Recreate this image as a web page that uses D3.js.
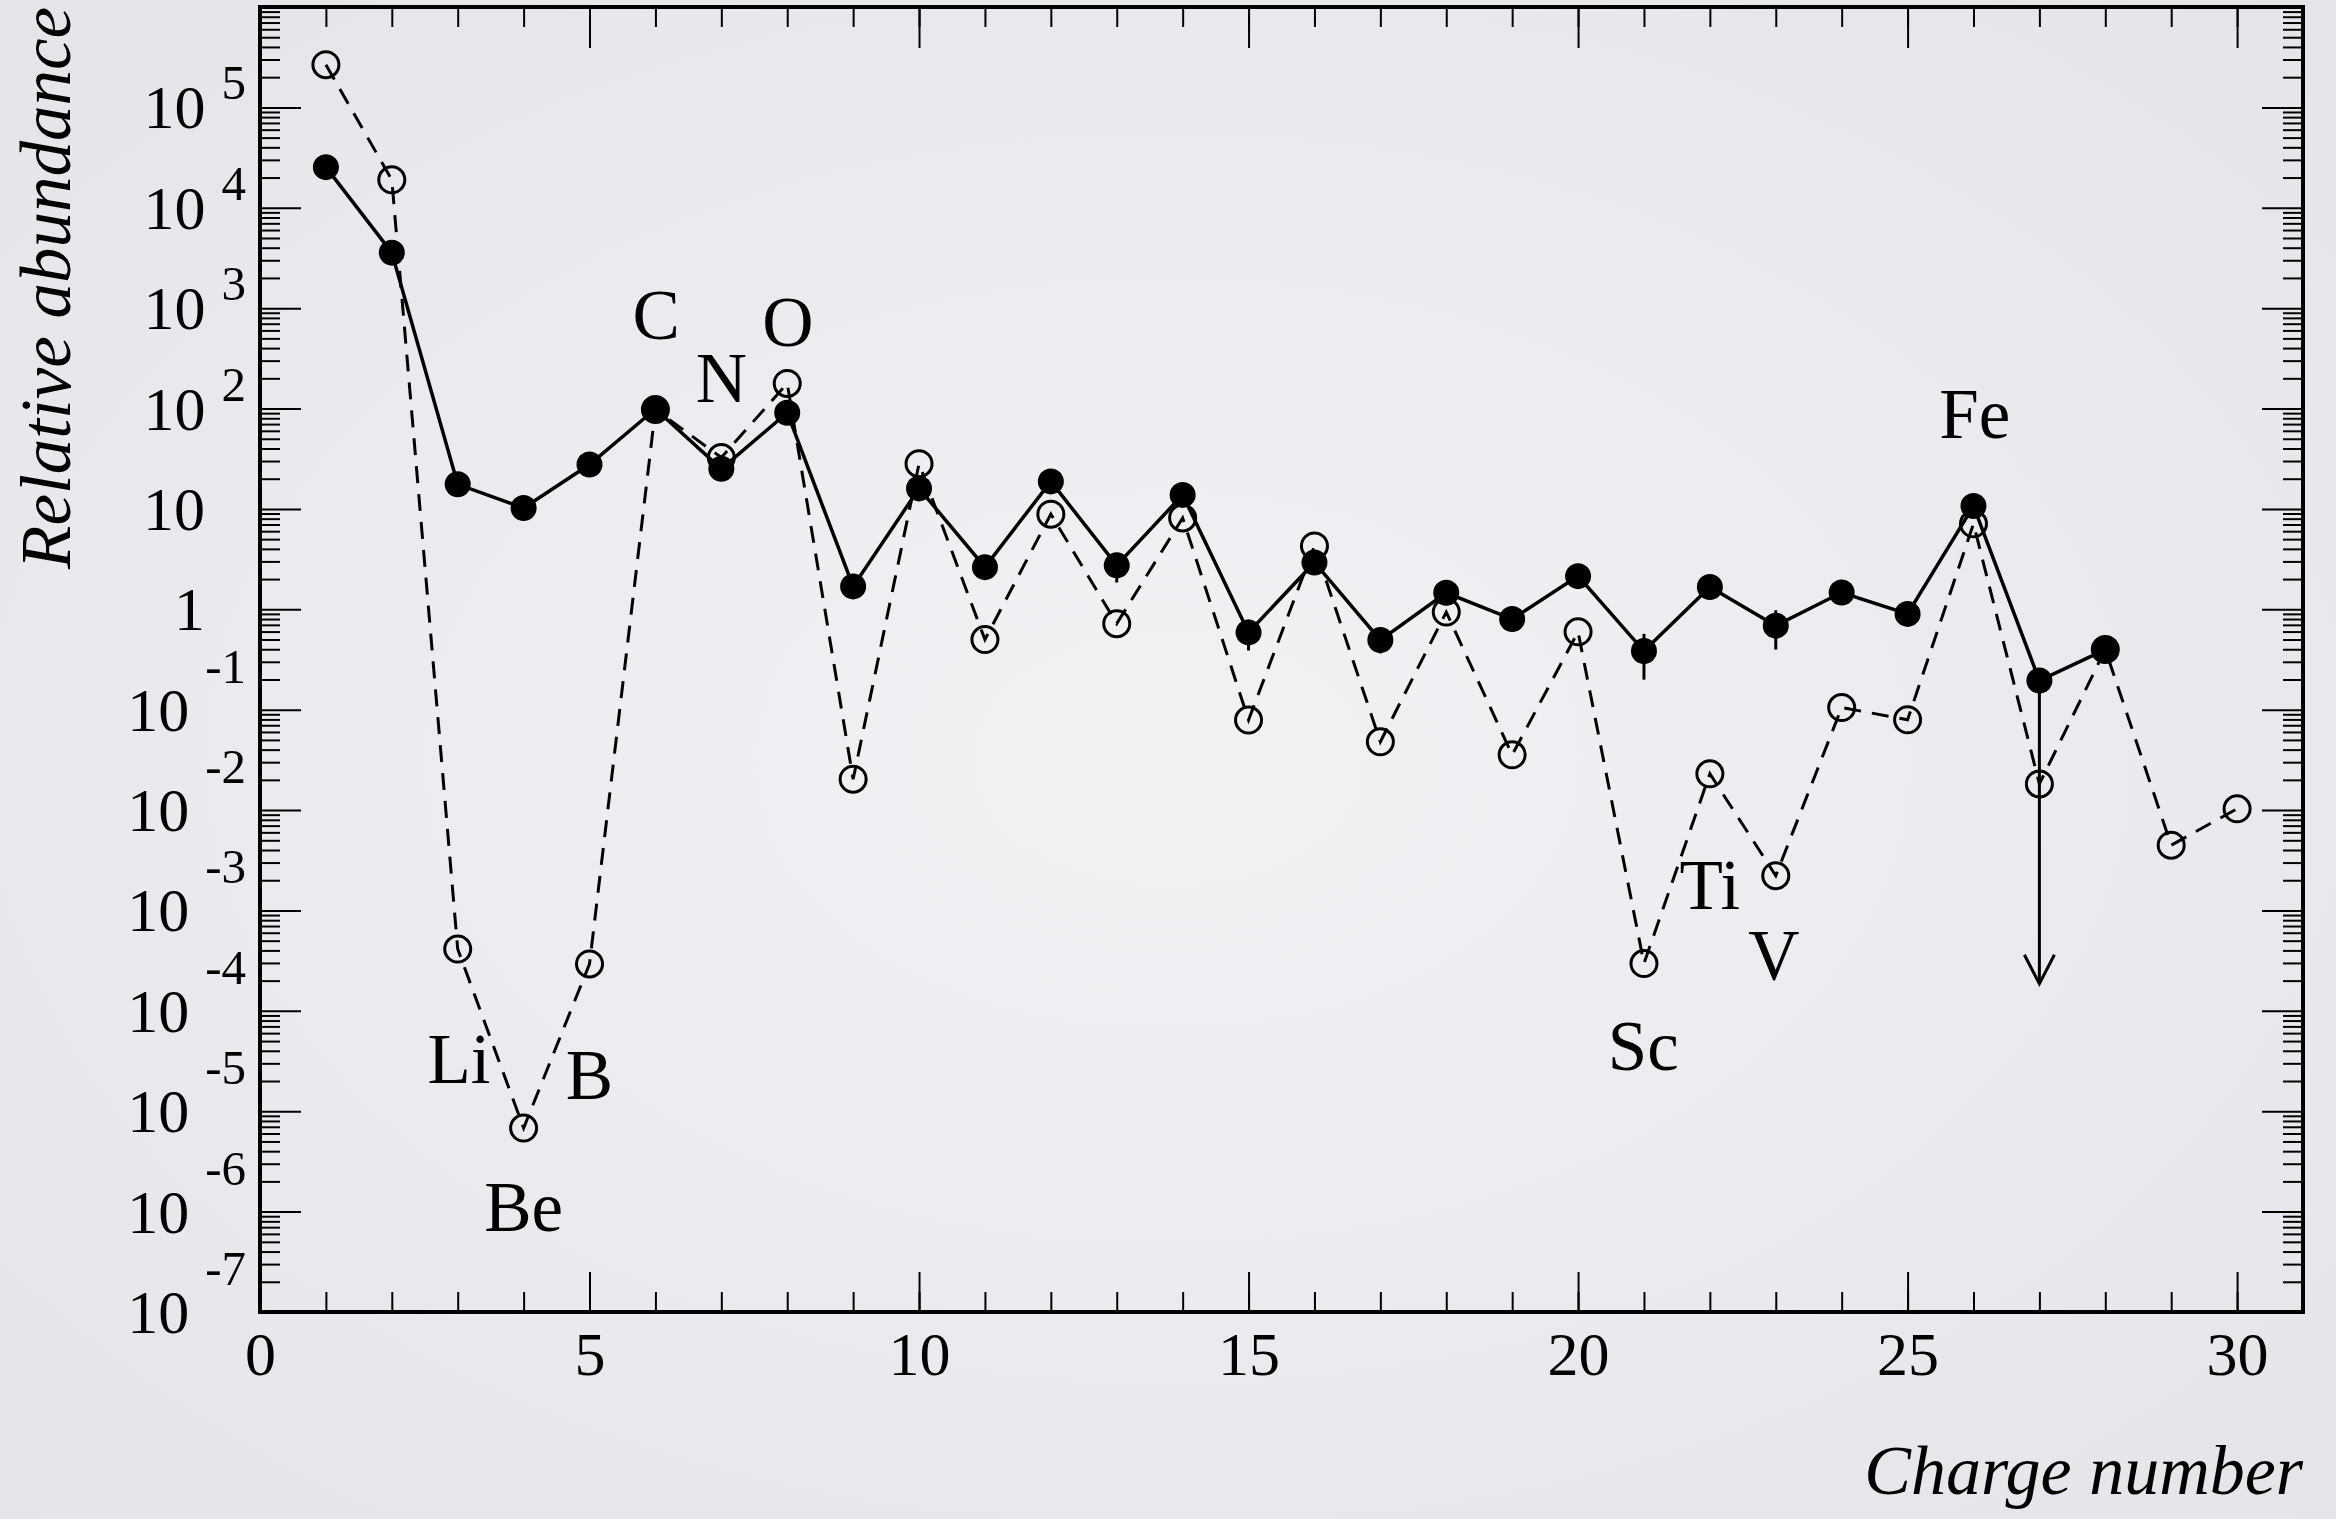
<!DOCTYPE html>
<html>
<head>
<meta charset="utf-8">
<script src="https://cdn.jsdelivr.net/npm/d3@7"></script>
<style>
  html, body { margin: 0; padding: 0; background: #e9ebee; }
  svg { display: block; }
  text { font-family: "Liberation Serif", "Times New Roman", serif; fill: #000; }
</style>
</head>
<body>
<div class="container"></div>
<script>
// charge number of each element
const charges = d3.range(1, 31)

// filled markers, solid line (Z = 1..28)
const solidValues = [25400, 3570, 17.6, 10.2, 27.7, 98.9, 25.1, 90.8, 1.69, 16.0,
  2.63, 18.8, 2.74, 13.8, 0.589, 2.93, 0.494, 1.46, 0.80, 2.14,
  0.384, 1.67, 0.687, 1.47, 0.90, 10.7, 0.195, 0.397]
// error on the filled markers (0 = none drawn)
const solidErrors = [0, 0, 0, 0, 0, 0, 0, 0, 0, 0,
  0, 0, 0.89, 0, 0.20, 0, 0.13, 0, 0, 0,
  0.185, 0, 0.29, 0, 0, 0, 0, 0]

// open markers, dashed line (Z = 1..30)
const dashedValues = [2.66e5, 1.9e4, 4.13e-4, 6.8e-6, 2.93e-4, 98, 32.5, 178, 0.0203, 28.2,
  0.50, 8.87, 0.72, 8.13, 0.0789, 4.28, 0.0479, 0.938, 0.0355, 0.596,
  2.96e-4, 0.0230, 2.22e-3, 0.105, 0.0794, 7.11, 0.0182, 0.398, 4.47e-3, 0.0103]

// upper limit arrow at Z = 27
const limitZ = 27
const limitFrom = 0.195
const limitTo = 1.86e-4

// element names, at (charge, abundance) of the text baseline
const labelNames = ['C', 'N', 'O', 'Li', 'B', 'Be', 'Fe', 'Ti', 'V', 'Sc']
const labelZ = [6.01, 7.0, 8.01, 3.02, 5.0, 4.0, 26.02, 22.0, 22.97, 20.99]
const labelV = [493, 116, 421, 1.92e-5, 1.33e-5, 6.4e-7, 51, 1.04e-3, 2.08e-4, 2.58e-5]

const xMajor = [0, 5, 10, 15, 20, 25, 30]
const yExponents = d3.range(-7, 6)   // labelled decades 10^-7 .. 10^5

const W = 2336, H = 1519
const pLeft = 260, pRight = 2303, pTop = 7, pBottom = 1312

var svg = d3.select('.container')
  .append('svg')
  .attr('width', W)
  .attr('height', H)

// soft vignette background
var grad = svg.append('defs').append('radialGradient')
  .attr('id', 'bg').attr('cx', '50%').attr('cy', '50%').attr('r', '75%')
grad.append('stop').attr('offset', '0%').attr('stop-color', '#f1f2f4')
grad.append('stop').attr('offset', '100%').attr('stop-color', '#e2e4e8')
svg.append('rect').attr('width', W).attr('height', H).attr('fill', 'url(#bg)')

var x = d3.scaleLinear().domain([0, 31]).range([pLeft, pRight])
var y = d3.scaleLog().domain([1e-7, 1e6]).range([pBottom, pTop])

// minor log ticks 2..9 x 10^k
var yMinor = []
for (var k = -7; k < 6; k++) {
  for (var m = 2; m <= 9; m++) yMinor.push(m * Math.pow(10, k))
}
var yMajor = d3.range(-7, 7).map(e => Math.pow(10, e))

function tickStyle(g) {
  g.select('.domain').remove()
  g.selectAll('.tick line').attr('stroke', '#000').attr('stroke-width', 2)
}

// bottom axis
svg.append('g').attr('transform', `translate(0,${pBottom})`)
  .call(d3.axisBottom(x).tickValues(d3.range(0, 31)).tickSize(-20).tickFormat(''))
  .call(tickStyle)
svg.append('g').attr('transform', `translate(0,${pBottom})`)
  .call(d3.axisBottom(x).tickValues(xMajor).tickSize(-40).tickPadding(19).tickFormat(d3.format('d')))
  .call(tickStyle)
  .call(g => g.selectAll('text')
    .attr('font-size', 62)
    .style('font-family', '"Liberation Serif", "Times New Roman", serif')
    .attr('fill', '#000'))

// top axis
svg.append('g').attr('transform', `translate(0,${pTop})`)
  .call(d3.axisTop(x).tickValues(d3.range(0, 31)).tickSize(-20).tickFormat(''))
  .call(tickStyle)
svg.append('g').attr('transform', `translate(0,${pTop})`)
  .call(d3.axisTop(x).tickValues(xMajor).tickSize(-41).tickFormat(''))
  .call(tickStyle)

// left and right axes
;[[d3.axisLeft, pLeft], [d3.axisRight, pRight]].forEach(([axisFn, pos]) => {
  svg.append('g').attr('transform', `translate(${pos},0)`)
    .call(axisFn(y).tickValues(yMinor).tickSize(-20).tickFormat(''))
    .call(tickStyle)
  svg.append('g').attr('transform', `translate(${pos},0)`)
    .call(axisFn(y).tickValues(yMajor).tickSize(-41).tickFormat(''))
    .call(tickStyle)
})

// y tick labels, ROOT style 10^n
yExponents.forEach(e => {
  var ty = y(Math.pow(10, e))
  if (e === 0 || e === 1) {
    svg.append('text')
      .attr('x', 205).attr('y', ty + 21)
      .attr('text-anchor', 'end')
      .attr('font-size', 62)
      .text(e === 0 ? '1' : '10')
  } else {
    var t = svg.append('text')
      .attr('x', 246).attr('y', ty + 21)
      .attr('text-anchor', 'end')
      .attr('font-size', 62)
    t.append('tspan').text('10')
    t.append('tspan')
      .attr('dx', 16)
      .attr('dy', e > 0 ? -29 : -48)
      .attr('font-size', 49)
      .text(String(e))
  }
})

// frame
svg.append('rect')
  .attr('x', pLeft).attr('y', pTop)
  .attr('width', pRight - pLeft).attr('height', pBottom - pTop)
  .attr('fill', 'none').attr('stroke', '#000').attr('stroke-width', 4)

// axis titles
svg.append('text')
  .attr('x', pRight).attr('y', 1494)
  .attr('text-anchor', 'end')
  .attr('font-size', 70)
  .attr('font-style', 'italic')
  .text('Charge number')

svg.append('text')
  .attr('transform', `translate(70,${pTop}) rotate(-90)`)
  .attr('text-anchor', 'end')
  .attr('font-size', 71)
  .attr('font-style', 'italic')
  .text('Relative abundance')

// dashed series with open markers
var dashedPts = dashedValues.map((v, i) => [charges[i], v])
svg.append('path')
  .datum(dashedPts)
  .attr('fill', 'none')
  .attr('stroke', '#000')
  .attr('stroke-width', 3)
  .attr('stroke-dasharray', '17,11')
  .attr('d', d3.line().x(d => x(d[0])).y(d => y(d[1])))

svg.append('g').selectAll('circle')
  .data(dashedPts)
  .join('circle')
  .attr('cx', d => x(d[0]))
  .attr('cy', d => y(d[1]))
  .attr('r', 13)
  .attr('fill', 'none')
  .attr('stroke', '#000')
  .attr('stroke-width', 3)

// upper limit arrow
var ax = x(limitZ), ay = y(limitTo)
svg.append('line')
  .attr('x1', ax).attr('x2', ax)
  .attr('y1', y(limitFrom)).attr('y2', ay)
  .attr('stroke', '#000').attr('stroke-width', 3)
svg.append('path')
  .attr('d', `M${ax - 15},${ay - 29} L${ax},${ay} L${ax + 15},${ay - 29}`)
  .attr('fill', 'none').attr('stroke', '#000').attr('stroke-width', 3)

// solid series with filled markers
var solidPts = solidValues.map((v, i) => [charges[i], v, solidErrors[i]])

svg.append('g').selectAll('line')
  .data(solidPts.filter(d => d[2] > 0))
  .join('line')
  .attr('x1', d => x(d[0])).attr('x2', d => x(d[0]))
  .attr('y1', d => y(d[1] + d[2])).attr('y2', d => y(d[1] - d[2]))
  .attr('stroke', '#000').attr('stroke-width', 3)

svg.append('path')
  .datum(solidPts)
  .attr('fill', 'none')
  .attr('stroke', '#000')
  .attr('stroke-width', 3.5)
  .attr('d', d3.line().x(d => x(d[0])).y(d => y(d[1])))

svg.append('g').selectAll('circle')
  .data(solidPts)
  .join('circle')
  .attr('cx', d => x(d[0]))
  .attr('cy', d => y(d[1]))
  .attr('r', 13)
  .attr('fill', '#000')

// element names
labelNames.forEach((name, i) => {
  svg.append('text')
    .attr('x', x(labelZ[i]))
    .attr('y', y(labelV[i]))
    .attr('text-anchor', 'middle')
    .attr('font-size', 71)
    .text(name)
})
</script>
</body>
</html>
